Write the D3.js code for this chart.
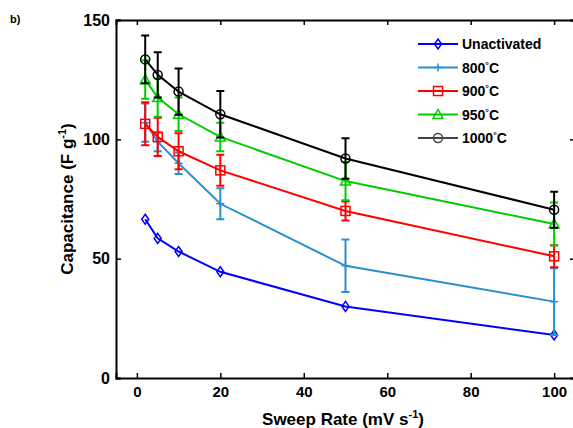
<!DOCTYPE html>
<html>
<head>
<meta charset="utf-8">
<script src="https://cdn.jsdelivr.net/npm/d3@7"></script>
<style>
body{margin:0;background:#fff}
text{font-family:"Liberation Sans",Arial,sans-serif;font-weight:bold}
</style>
</head>
<body>
<div id="chart"></div>
<script>
// sweep rates (mV/s)
var rates=[2,5,10,20,50,100]
var seriesNames=["Unactivated","800","900","950","1000"]
var unactivated=[66.5,58.5,53,44.5,30,18]
var unactErr=[0,0,0,0,0,0]
var c800=[107,99,90,73,47,32]
var c800Err=[8,4,4.5,6.5,11,14]
var c900=[106.5,101,95,87,70,51]
var c900Err=[9,8,7.5,6.5,4,4.6]
var c950=[125,117.5,110.5,101,82.5,64.5]
var c950Err=[8,8,7,6,8,9]
var c1000=[133.5,127,120,110.5,92,70.5]
var c1000Err=[10,9.5,9.7,9.7,8.5,7.5]
var xTicks=[0,20,40,60,80,100]
var yTicks=[0,50,100,150]

var colors=["#0000ff","#2a8fd0","#ff0000","#00cc00","#000000"]
var markers=["diamond","plus","square","triangle","circle"]
var values=[unactivated,c800,c900,c950,c1000]
var errs=[unactErr,c800Err,c900Err,c950Err,c1000Err]

var width=573,height=428
var svg=d3.select("#chart").append("svg")
	.attr("width",width).attr("height",height)

var x=d3.scaleLinear().domain([-5,105]).range([116,575])
var y=d3.scaleLinear().domain([0,150]).range([378,20])

// frame, bottom/left/top axes with inward ticks
svg.append("g").attr("transform","translate(0,378)")
	.call(d3.axisBottom(x).tickValues(xTicks).tickSize(-5).tickPadding(8).tickFormat(d3.format("d")))
	.call(g=>g.selectAll("text").attr("font-size",15).attr("fill","#000"))
svg.append("g").attr("transform","translate(0,20)")
	.call(d3.axisTop(x).tickValues(xTicks).tickSize(-5).tickFormat(""))
svg.append("g").attr("transform","translate(116,0)")
	.call(d3.axisLeft(y).tickValues(yTicks).tickSize(-5).tickPadding(6).tickFormat(d3.format("d")))
	.call(g=>g.selectAll("text").attr("font-size",16).attr("fill","#000"))
svg.append("g").attr("transform","translate(575,0)")
	.call(d3.axisRight(y).tickValues(yTicks).tickSize(-5).tickFormat(""))
svg.selectAll(".domain").attr("stroke","#000").attr("stroke-width",2)
svg.selectAll(".tick line").attr("stroke","#000").attr("stroke-width",1.5)

var line=d3.line().x((d,i)=>x(rates[i])).y(d=>y(d))

function marker(g,type,color,cx,cy){
	if(type=="diamond"){
		g.append("path").attr("d",`M${cx},${cy-5}L${cx+3.5},${cy}L${cx},${cy+5}L${cx-3.5},${cy}Z`)
			.attr("fill","none").attr("stroke",color).attr("stroke-width",1.5)
	}else if(type=="plus"){
		g.append("path").attr("d",`M${cx-4},${cy}H${cx+4}M${cx},${cy-4}V${cy+4}`)
			.attr("stroke",color).attr("stroke-width",1.5)
	}else if(type=="square"){
		g.append("rect").attr("x",cx-4.5).attr("y",cy-4.5).attr("width",9).attr("height",9)
			.attr("fill","none").attr("stroke",color).attr("stroke-width",1.5)
	}else if(type=="triangle"){
		g.append("path").attr("d",`M${cx},${cy-5}L${cx+5},${cy+4}L${cx-5},${cy+4}Z`)
			.attr("fill","none").attr("stroke",color).attr("stroke-width",1.5)
	}else{
		g.append("circle").attr("cx",cx).attr("cy",cy).attr("r",4.5)
			.attr("fill","none").attr("stroke",color).attr("stroke-width",1.5)
	}
}

values.forEach(function(vals,s){
	var g=svg.append("g")
	var col=colors[s]
	g.append("path").datum(vals).attr("d",line)
		.attr("fill","none").attr("stroke",col).attr("stroke-width",2)
	vals.forEach(function(v,i){
		var e=errs[s][i],cx=x(rates[i])
		if(e>0){
			g.append("path")
				.attr("d",`M${cx},${y(v-e)}V${y(v+e)}M${cx-4},${y(v-e)}H${cx+4}M${cx-4},${y(v+e)}H${cx+4}`)
				.attr("stroke",col).attr("stroke-width",2).attr("fill","none")
		}
		marker(g,markers[s],col,cx,y(v))
	})
})

// legend
var leg=svg.append("g")
seriesNames.forEach(function(n,i){
	var ly=44+i*23.5
	var col=i==4?"#444":colors[i]
	leg.append("line").attr("x1",418).attr("x2",458).attr("y1",ly).attr("y2",ly)
		.attr("stroke",col).attr("stroke-width",2)
	marker(leg,markers[i],col,438,ly)
	var t=leg.append("text").attr("x",462).attr("y",ly+5).attr("font-size",14)
	if(i==0){t.text(n)}
	else{
		t.append("tspan").text(n)
		t.append("tspan").text("°").attr("font-size",9).attr("dy",-5)
		t.append("tspan").text("C").attr("dy",5)
	}
})

// axis titles
var xt=svg.append("text").attr("x",343).attr("y",425).attr("text-anchor","middle").attr("font-size",17)
xt.append("tspan").text("Sweep Rate (mV s")
xt.append("tspan").text("-1").attr("font-size",11).attr("dy",-7)
xt.append("tspan").text(")").attr("dy",7)

var yt=svg.append("text").attr("transform","translate(73,199) rotate(-90)").attr("text-anchor","middle")
	.attr("font-size",17)
yt.append("tspan").text("Capacitance (F g")
yt.append("tspan").text("-1").attr("font-size",11).attr("dy",-7)
yt.append("tspan").text(")").attr("dy",7)

svg.append("text").attr("x",10).attr("y",23).attr("font-size",11).text("b)")
</script>
</body>
</html>
